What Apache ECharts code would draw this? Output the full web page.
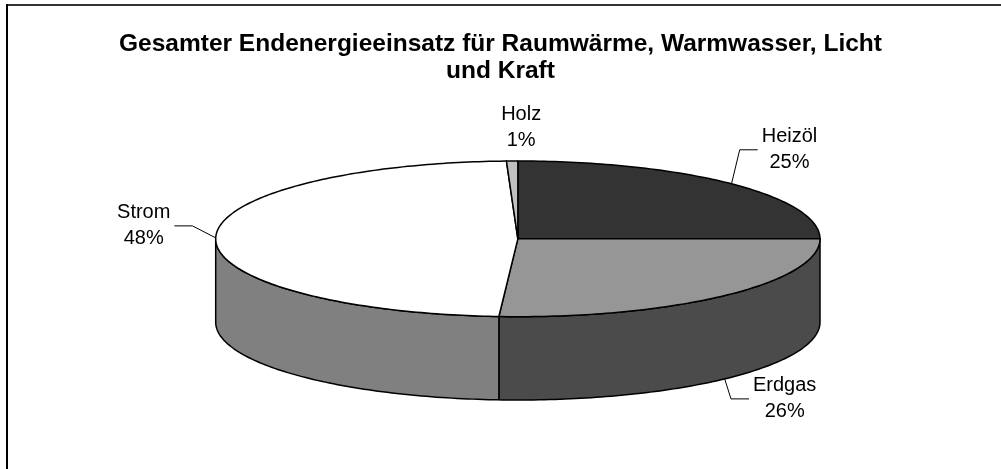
<!DOCTYPE html>
<html>
<head>
<meta charset="utf-8">
<script src="https://cdn.jsdelivr.net/npm/echarts@6/dist/echarts.min.js"></script>
<style>
html, body { margin: 0; padding: 0; background: #fff; }
#chart { width: 1001px; height: 469px; }
</style>
</head>
<body>
<div id="chart"></div>
<script>
// slices, clockwise from 12 o'clock
const categories = ['Heizöl', 'Erdgas', 'Strom', 'Holz'];
const values = [25.0, 26.0, 48.4, 0.6];
const percentLabels = ['25%', '26%', '48%', '1%'];

const topColors = ['#333333', '#969696', '#ffffff', '#c0c0c0'];
const sideColors = ['#1a1a1a', '#4b4b4b', '#808080', '#606060'];
// label block centre relative to its anchor on the rim, px
const labelOffsets = [[58, -34], [60, 20], [-72, -12], [9, -34]];

const TILT = 0.2576;   // ry / rx
const DEPTH = 0.2757;  // cake height / rx
const FONT = '"Liberation Sans", Arial, sans-serif';

const chart = echarts.init(document.getElementById('chart'));
const total = values.reduce((a, b) => a + b, 0);

const ctx = document.createElement('canvas').getContext('2d');
ctx.font = '20px ' + FONT;
function textWidth(s) { return ctx.measureText(s).width; }

// point on the rim at angle deg (clockwise from top), dropped by drop
function rim(deg, drop) {
  const r = deg * Math.PI / 180;
  return [Math.sin(r), TILT * Math.cos(r) - (drop || 0)];
}

function arc(api, from, to, drop) {
  const pts = [];
  for (let a = from; ; a += 1) {
    const d = Math.min(a, to);
    pts.push(api.coord(rim(d, drop)));
    if (d >= to) break;
  }
  return pts;
}

function renderItem(params, api) {
  const i = params.dataIndex;
  let start = 0;
  for (let k = 0; k < i; k++) start += values[k] / total * 360;
  const end = start + api.value(0) / total * 360;
  const children = [];

  // side wall, only the front half (90..270) can be seen
  const s0 = Math.max(start, 90), s1 = Math.min(end, 270);
  if (s1 > s0) {
    const pts = arc(api, s0, s1, 0).concat(arc(api, s0, s1, DEPTH).reverse());
    children.push({
      type: 'polygon',
      shape: { points: pts },
      style: { fill: sideColors[i], stroke: '#000', lineWidth: 1.5, lineJoin: 'round' }
    });
  }

  // top face
  const face = [api.coord([0, 0])].concat(arc(api, start, end, 0));
  children.push({
    type: 'polygon',
    shape: { points: face },
    style: { fill: topColors[i], stroke: '#000', lineWidth: 1.5, lineJoin: 'round' }
  });

  // label + leader
  const mid = (start + end) / 2;
  const front = mid > 90 && mid < 270;
  const anchor = api.coord(rim(mid, front ? DEPTH : 0));
  const off = labelOffsets[i];
  const cx = anchor[0] + off[0], cy = anchor[1] + off[1];
  const txt = categories[i] + '\n' + percentLabels[i];
  if (Math.abs(off[0]) > 30) {
    const half = Math.max(textWidth(categories[i]), textWidth(percentLabels[i])) / 2;
    const side = off[0] > 0 ? 1 : -1;
    const ex = cx - side * (half + 4);
    const bx = ex - side * 18;
    children.push({
      type: 'polyline',
      shape: { points: [anchor, [bx, cy], [ex, cy]] },
      style: { stroke: '#000', lineWidth: 1, fill: null }
    });
  }
  children.push({
    type: 'text',
    style: {
      text: txt, x: cx, y: cy, align: 'center', verticalAlign: 'middle',
      fontSize: 20, fontFamily: FONT, lineHeight: 26, fill: '#000'
    }
  });

  return { type: 'group', children: children };
}

chart.setOption({
  animation: false,
  title: {
    text: 'Gesamter Endenergieeinsatz für Raumwärme, Warmwasser, Licht\nund Kraft',
    left: 'center',
    top: 31,
    padding: 0,
    textStyle: { fontFamily: FONT, fontSize: 24.5, fontWeight: 'bold', lineHeight: 27, color: '#000' }
  },
  graphic: [
    { type: 'line', shape: { x1: 6, y1: 5, x2: 1001, y2: 5 }, style: { stroke: '#333', lineWidth: 2 } },
    { type: 'line', shape: { x1: 7, y1: 4, x2: 7, y2: 469 }, style: { stroke: '#000', lineWidth: 2 } }
  ],
  grid: { left: 215.7, right: 181, top: 161, bottom: 69 },
  xAxis: { type: 'value', min: -1, max: 1, show: false },
  yAxis: { type: 'value', min: -(TILT + DEPTH), max: TILT, show: false },
  series: [{
    type: 'custom',
    renderItem: renderItem,
    clip: false,
    data: values.map(v => [v]),
    encode: { x: -1, y: -1 }
  }]
});
</script>
</body>
</html>
